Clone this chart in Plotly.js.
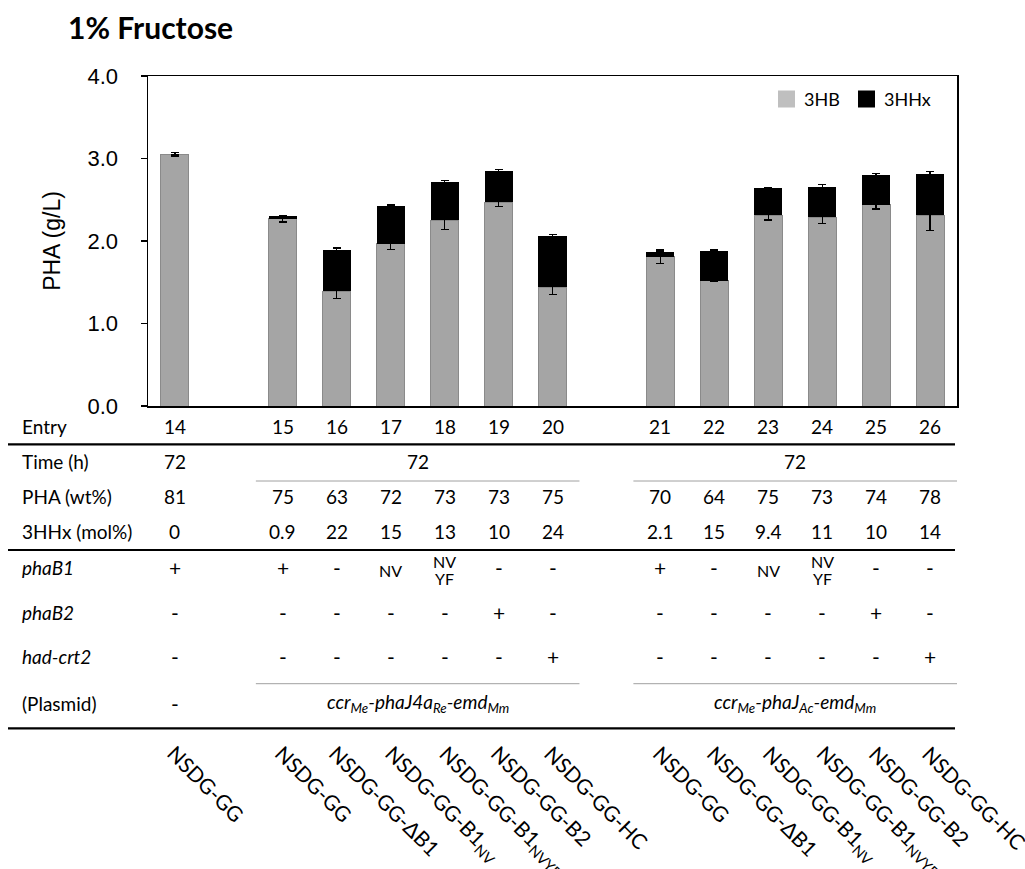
<!DOCTYPE html>
<html><head><meta charset="utf-8">
<script src="https://cdn.plot.ly/plotly-3.0.1.min.js"></script>
<style>html,body{margin:0;padding:0;background:#fff}#chart{width:1025px;height:869px}</style>
</head><body><div id="chart"></div>
<script>
// ---------------- data ----------------
const groupA = ['14'];
const groupB = ['15','16','17','18','19','20'];
const groupC = ['21','22','23','24','25','26'];
const entries = groupA.concat(groupB, groupC);
const seriesNames = ['3HB', '3HHx'];
const hb      = [3.05, 2.27, 1.39, 1.965, 2.25, 2.47, 1.44, 1.81, 1.52, 2.31, 2.29, 2.44, 2.315];
const hhx     = [0.00, 0.03, 0.505, 0.455, 0.46, 0.38, 0.62, 0.055, 0.355, 0.33, 0.365, 0.36, 0.495];
const hbErr   = [0.02, 0.04, 0.085, 0.065, 0.11, 0.053, 0.09, 0.08, 0.01, 0.057, 0.08, 0.053, 0.19];
const totErr  = [0.00, 0.01, 0.02, 0.017, 0.02, 0.015, 0.02, 0.01, 0.015, 0.008, 0.03, 0.02, 0.03];
const timeH   = ['72', '72', '72'];           // per group A, B, C
const phaWt   = ['81','75','63','72','73','73','75','70','64','75','73','74','78'];
const hhxMol  = ['0','0.9','22','15','13','10','24','2.1','15','9.4','11','10','14'];
const phaB1   = ['+','+','-','NV','NV|YF','-','-','+','-','NV','NV|YF','-','-'];
const phaB2   = ['-','-','-','-','-','+','-','-','-','-','-','+','-'];
const hadCrt2 = ['-','-','-','-','-','-','+','-','-','-','-','-','+'];
const plasmid = ['-', '<i>ccr<sub>Me</sub>-phaJ4a<sub>Re</sub>-emd<sub>Mm</sub></i>', '<i>ccr<sub>Me</sub>-phaJ<sub>Ac</sub>-emd<sub>Mm</sub></i>'];
const rowLabels = ['Entry', 'Time (h)', 'PHA (wt%)', '3HHx (mol%)', '<i>phaB1</i>', '<i>phaB2</i>', '<i>had-crt2</i>', '(Plasmid)'];
const strains = ['NSDG-GG',
  'NSDG-GG','NSDG-GG-ΔB1','NSDG-GG-B1<sub>NV</sub>','NSDG-GG-B1<sub>NVYF</sub>','NSDG-GG-B2','NSDG-GG-HC',
  'NSDG-GG','NSDG-GG-ΔB1','NSDG-GG-B1<sub>NV</sub>','NSDG-GG-B1<sub>NVYF</sub>','NSDG-GG-B2','NSDG-GG-HC'];
const title = '1% Fructose';
const yTitle = 'PHA (g/L)';

// ---------------- layout geometry ----------------
const W = 1025, H = 869;
const L = 148, R = 957, T = 76, B = 406;
const cats = groupA.concat(['gap1'], groupB, ['gap2'], groupC);
const nCats = cats.length;
const pX = px => (px - L) / (R - L);
const pY = py => (B - py) / (B - T);
const catPaper = idx => (idx + 0.5) / nCats;
const idxOf = c => cats.indexOf(c);

const tableFont = {family: 'Lato, Open Sans, sans-serif', size: 19, color: '#000'};
const signFont = {family: 'Lato, Open Sans, sans-serif', size: 21, color: '#000'};
const smallFont = {family: 'Lato, Open Sans, sans-serif', size: 16, color: '#000'};
const rows = {entry: 426, time: 461.7, pha: 496.7, mol: 531, b1: 567.7, b2: 612.3, had: 656.7, plas: 703.3};
const rowYs = [rows.entry, rows.time, rows.pha, rows.mol, rows.b1, rows.b2, rows.had, rows.plas];

const annotations = [];
// x is a category serial index on the x axis (or paper value if extra.xref is 'paper')
function addText(text, x, py, font, extra) {
  annotations.push(Object.assign({text: text, x: x, xref: 'x', y: pY(py), yref: 'paper',
    showarrow: false, font: font || tableFont, xanchor: 'center', yanchor: 'middle'}, extra || {}));
}
// row labels
rowLabels.forEach((t, i) => addText(t, pX(20), rowYs[i], tableFont, {xref: 'paper', xanchor: 'left'}));
// per-entry rows
entries.forEach((e, i) => {
  const xi = idxOf(e);
  addText(e, xi, rows.entry);
  addText(phaWt[i], xi, rows.pha);
  addText(hhxMol[i], xi, rows.mol);
  const b1 = phaB1[i];
  if (b1.indexOf('|') >= 0) {
    const parts = b1.split('|');
    addText(parts[0], xi, 561.7, smallFont);
    addText(parts[1], xi, 578.3, smallFont);
  } else if (b1 === 'NV') {
    addText(b1, xi, 570, smallFont);
  } else {
    addText(b1, xi, rows.b1, signFont);
  }
  addText(phaB2[i], xi, rows.b2, signFont);
  addText(hadCrt2[i], xi, rows.had, signFont);
  addText(strains[i], xi, 738, {family: 'Lato, Open Sans, sans-serif', size: 21, color: '#000'},
    {textangle: 45, xanchor: 'left', yanchor: 'top', xshift: -15});
});
// group-level rows
const groups = [groupA, groupB, groupC];
groups.forEach((g, gi) => {
  const mid = (idxOf(g[0]) + idxOf(g[g.length - 1])) / 2;
  addText(timeH[gi], mid, rows.time);
  addText(plasmid[gi], mid, rows.plas, gi === 0 ? signFont : tableFont);
});

// legend (custom, matches square size)
const legColors = ['#bfbfbf', '#000000'];
const legX = [778, 858];
const shapes = [];
seriesNames.forEach((n, i) => {
  shapes.push({type: 'rect', xref: 'paper', yref: 'paper', x0: pX(legX[i]), x1: pX(legX[i] + 17),
    y0: pY(107.5), y1: pY(90.5), fillcolor: legColors[i], line: {width: 0}});
  annotations.push({text: n, xref: 'paper', yref: 'paper', x: pX(legX[i] + 24), y: pY(99), xanchor: 'left',
    yanchor: 'middle', showarrow: false, font: {family: 'Lato, Open Sans, sans-serif', size: 18, color: '#000'}});
});

// table lines
function hline(py, x0, x1, width, color) {
  shapes.push({type: 'line', xref: 'paper', yref: 'paper', x0: x0, x1: x1, y0: pY(py), y1: pY(py),
    line: {color: color, width: width}});
}
const fullX0 = pX(8), fullX1 = pX(955);
hline(444.3, fullX0, fullX1, 2.2, '#000');
hline(550, fullX0, fullX1, 2.2, '#000');
hline(728.3, fullX0, fullX1, 2.2, '#000');
[groupB, groupC].forEach(g => {
  const a = catPaper(idxOf(g[0]) - 0.5) , b = catPaper(idxOf(g[g.length - 1]) + 0.5);
  hline(481, a, b, 1, '#a0a0a0');
  hline(683.7, a, b, 1, '#a0a0a0');
});

const traces = [
  {type: 'bar', name: seriesNames[0], x: entries, y: hb, width: 0.52,
   marker: {color: '#a5a5a5', line: {color: '#8a8a8a', width: 1}},
   error_y: {type: 'data', array: hbErr, visible: true, color: '#000', thickness: 1.3, width: 4},
   showlegend: false, hoverinfo: 'skip'},
  {type: 'bar', name: seriesNames[1], x: entries, y: hhx, width: 0.52,
   marker: {color: '#000', line: {width: 0}},
   error_y: {type: 'data', array: totErr, visible: true, color: '#000', thickness: 1.3, width: 4},
   showlegend: false, hoverinfo: 'skip'}
];

const layout = {
  width: W, height: H,
  margin: {l: L, r: W - R, t: T, b: H - B, pad: 0},
  paper_bgcolor: '#fff', plot_bgcolor: '#fff',
  barmode: 'stack',
  showlegend: false,
  title: {text: '<b>' + title + '</b>', x: 68 / W, xref: 'container', xanchor: 'left',
          y: 1 - 28 / H, yref: 'container', yanchor: 'middle',
          font: {family: 'Lato, Open Sans, sans-serif', size: 30, color: '#000'}},
  xaxis: {type: 'category', categoryorder: 'array', categoryarray: cats, range: [-0.5, nCats - 0.5],
          showticklabels: false, ticks: '', showline: true, mirror: true, linecolor: '#000', linewidth: 1.5,
          showgrid: false, zeroline: false, fixedrange: true},
  yaxis: {range: [0, 4], tick0: 0, dtick: 1, tickformat: '.1f', ticks: 'outside', ticklen: 6, tickwidth: 1.3,
          tickcolor: '#000', showline: true, mirror: true, linecolor: '#000', linewidth: 1.5,
          showgrid: false, zeroline: false, fixedrange: true, ticklabelstandoff: 18,
          tickfont: {family: 'Liberation Sans, Arial, sans-serif', size: 22, color: '#000'},
          title: {text: yTitle, standoff: 20, font: {family: 'Liberation Sans, Arial, sans-serif', size: 23, color: '#000'}}},
  annotations: annotations,
  shapes: shapes
};
Plotly.newPlot('chart', traces, layout, {staticPlot: true, displayModeBar: false});
</script></body></html>
